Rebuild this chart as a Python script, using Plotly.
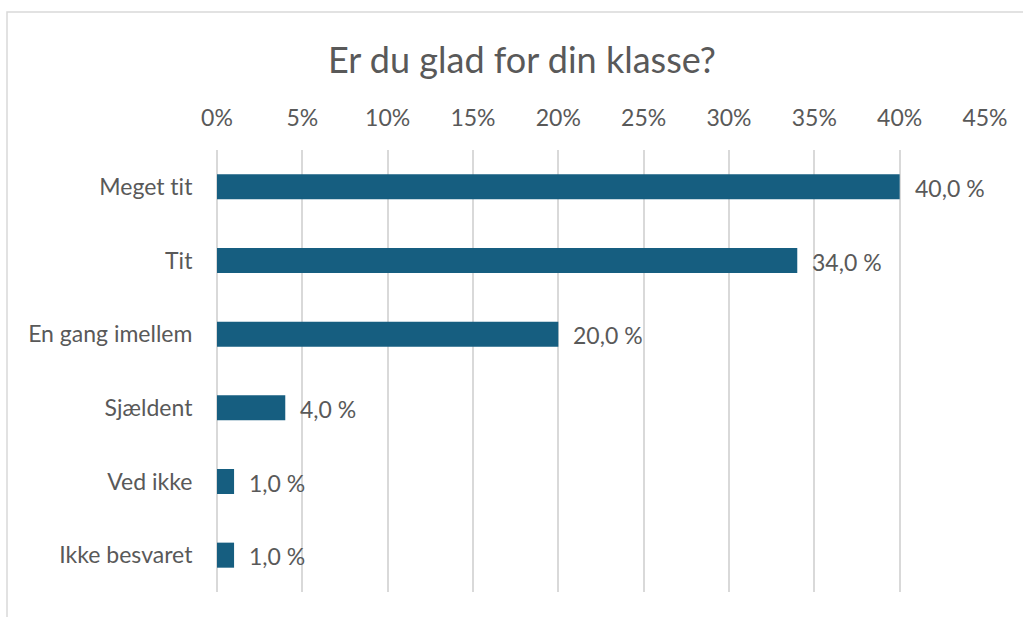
import plotly.graph_objects as go

categories = ["Meget tit", "Tit", "En gang imellem", "Sjældent", "Ved ikke", "Ikke besvaret"]
values = [40.0, 34.0, 20.0, 4.0, 1.0, 1.0]
tick_vals = [0, 5, 10, 15, 20, 25, 30, 35, 40, 45]
tick_text = [f"{v}%" for v in tick_vals]
title_text = "Er du glad for din klasse?"

bar_color = "#165e80"
text_color = "#595959"
grid_color = "#d9d9d9"
font_family = "Lato"

fig = go.Figure()
fig.add_trace(go.Bar(
    x=values, y=categories, orientation="h",
    marker=dict(color=bar_color, line=dict(width=0)),
    width=0.34, hoverinfo="skip",
))

for c, v in zip(categories, values):
    fig.add_annotation(
        x=v, y=c, xref="x", yref="y",
        text=f"{v:.1f}".replace(".", ",") + " %",
        showarrow=False, xanchor="left", yanchor="middle",
        xshift=13, yshift=-1,
        font=dict(family=font_family, size=23, color=text_color),
    )

fig.add_shape(
    type="rect", xref="paper", yref="paper",
    x0=(7 - 217) / 768, x1=1.3, y0=-0.3, y1=(592 - 12) / 442,
    line=dict(color=grid_color, width=1.5), fillcolor="rgba(0,0,0,0)",
    layer="below",
)

fig.update_layout(
    width=1023, height=617,
    margin=dict(l=217, r=38, t=150, b=25),
    paper_bgcolor="white", plot_bgcolor="white",
    showlegend=False,
    title=dict(text=title_text, x=522 / 1023, xanchor="center",
               y=1 - 60 / 617, yanchor="middle",
               font=dict(family=font_family, size=36, color=text_color)),
    font=dict(family=font_family, color=text_color),
    xaxis=dict(
        side="top", range=[0, 45], tickvals=tick_vals, ticktext=tick_text,
        showgrid=True, gridcolor=grid_color, gridwidth=2,
        zeroline=True, zerolinecolor=grid_color, zerolinewidth=2,
        showline=False, ticks="outside", ticklen=14, tickcolor="rgba(0,0,0,0)",
        tickfont=dict(family=font_family, size=23, color=text_color),
        fixedrange=True,
    ),
    yaxis=dict(
        categoryorder="array", categoryarray=categories, autorange="reversed",
        showgrid=False, zeroline=False, showline=False,
        ticks="outside", ticklen=19, tickcolor="rgba(0,0,0,0)",
        tickfont=dict(family=font_family, size=23, color=text_color),
        fixedrange=True,
    ),
    bargap=0.66,
)

post = (
    "document.body.style.margin='0';"
    "var s=document.createElement('style');"
    "s.textContent='text{font-variant-ligatures:none !important;"
    "font-feature-settings:\"liga\" 0,\"clig\" 0 !important;}';"
    "document.head.appendChild(s);"
)
fig.write_html("out.html", config={"displayModeBar": False}, post_script=post)
